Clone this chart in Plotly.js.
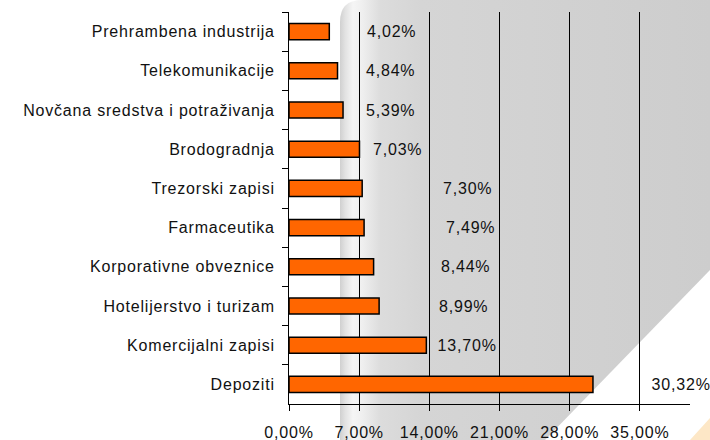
<!DOCTYPE html>
<html>
<head>
<meta charset="utf-8">
<script src="https://cdn.plot.ly/plotly-3.0.1.min.js"></script>
<style>
  html, body { margin: 0; padding: 0; background: #ffffff; }
  #chart { width: 710px; height: 440px; }
  #chart .main-svg text { letter-spacing: 0.8px; }
</style>
</head>
<body>
<div id="chart"></div>
<script>
// Categories (top to bottom)
const categories = [
  "Prehrambena industrija",
  "Telekomunikacije",
  "Novčana sredstva i potraživanja",
  "Brodogradnja",
  "Trezorski zapisi",
  "Farmaceutika",
  "Korporativne obveznice",
  "Hotelijerstvo i turizam",
  "Komercijalni zapisi",
  "Depoziti"
];
// Shares in percent
const values = [4.02, 4.84, 5.39, 7.03, 7.30, 7.49, 8.44, 8.99, 13.70, 30.32];
// Axis ticks
const tickValues = [0, 7, 14, 21, 28, 35];

// Where each data label sits along the x axis (as in the original)
const labelX = [10.2, 10.1, 10.1, 10.8, 17.8, 18.1, 17.6, 17.4, 17.8, 39.1];

const fmt = v => v.toFixed(2).replace('.', ',') + '%';
const FONT = 'Liberation Sans, Arial, sans-serif';

const trace = {
  type: 'bar',
  orientation: 'h',
  y: categories,
  x: values,
  marker: { color: '#ff6600', line: { color: '#000000', width: 1.5 } },
  hoverinfo: 'skip'
};

const annotations = categories.map((c, i) => ({
  x: labelX[i], y: c, xref: 'x', yref: 'y',
  text: fmt(values[i]), showarrow: false, xanchor: 'center', yanchor: 'middle',
  font: { family: FONT, size: 16, color: '#111111' }
}));

// decorative watermark background
const bgSvg =
  '<svg xmlns="http://www.w3.org/2000/svg" width="710" height="440" viewBox="0 0 710 440">' +
  '<defs><linearGradient id="g" gradientUnits="userSpaceOnUse" x1="340" y1="0" x2="710" y2="0">' +
  '<stop offset="0" stop-color="#d0d0d0"/>' +
  '<stop offset="0.014" stop-color="#e2e2e2"/>' +
  '<stop offset="0.035" stop-color="#f5f5f5"/>' +
  '<stop offset="0.06" stop-color="#efefef"/>' +
  '<stop offset="0.11" stop-color="#dcdcdc"/>' +
  '<stop offset="0.22" stop-color="#d5d5d5"/>' +
  '<stop offset="1" stop-color="#cdcdcd"/>' +
  '</linearGradient></defs>' +
  '<rect x="0" y="0" width="710" height="440" fill="#ffffff"/>' +
  '<path d="M340,440 L340,22 Q340,0 362,0 L710,0 L710,270 L545,440 Z" fill="url(#g)"/>' +
  '<path d="M690,440 L710,418 L710,440 Z" fill="#fde7c6"/>' +
  '</svg>';
const bgUri = 'data:image/svg+xml;charset=utf-8,' + encodeURIComponent(bgSvg);

const L = 289, R = 20, T = 12, B = 36, W = 710, H = 440;
const pw = W - L - R, ph = H - T - B;

const layout = {
  width: W, height: H,
  margin: { l: L, r: R, t: T, b: B, pad: 0 },
  paper_bgcolor: '#ffffff',
  plot_bgcolor: 'rgba(0,0,0,0)',
  showlegend: false,
  bargap: 0.59,
  font: { family: FONT, size: 16, color: '#111111' },
  xaxis: {
    range: [0, 40],
    tickvals: tickValues,
    ticktext: tickValues.map(fmt),
    showgrid: true, gridcolor: '#000000', gridwidth: 1,
    zeroline: false,
    showline: true, linecolor: '#000000', linewidth: 1,
    ticks: 'outside', ticklen: 6, tickcolor: '#000000', tickwidth: 1,
    ticklabelstandoff: 8,
    tickfont: { size: 16 },
    fixedrange: true
  },
  yaxis: {
    type: 'category',
    autorange: 'reversed',
    tickson: 'boundaries',
    showgrid: false, zeroline: false,
    showline: true, linecolor: '#000000', linewidth: 1,
    ticks: 'outside', ticklen: 6, tickcolor: '#000000', tickwidth: 1,
    ticklabelstandoff: 10,
    tickfont: { size: 16 },
    fixedrange: true
  },
  annotations: annotations,
  images: [{
    source: bgUri, xref: 'paper', yref: 'paper',
    x: -L / pw, y: 1 + T / ph, sizex: W / pw, sizey: H / ph,
    xanchor: 'left', yanchor: 'top', sizing: 'stretch', layer: 'below'
  }]
};

Plotly.newPlot('chart', [trace], layout, { displayModeBar: false, staticPlot: true });
</script>
</body>
</html>
